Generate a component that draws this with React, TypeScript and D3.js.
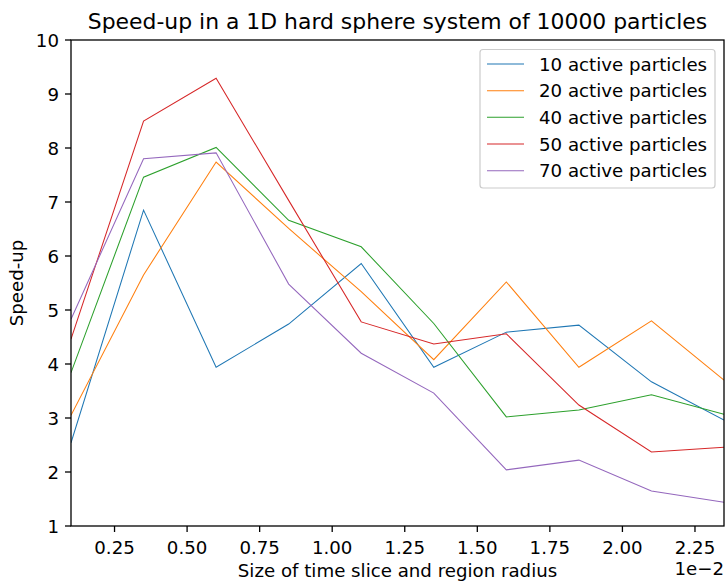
import React from "react";
import * as d3 from "d3";

const xValues = [0.1, 0.35, 0.6, 0.85, 1.1, 1.35, 1.6, 1.85, 2.1, 2.35];
const series10 = [2.54, 6.85, 3.94, 4.74, 5.86, 3.94, 4.59, 4.72, 3.67, 2.96];
const series20 = [3.05, 5.65, 7.74, 6.51, 5.34, 4.08, 5.52, 3.94, 4.8, 3.7];
const series40 = [3.84, 7.46, 8.01, 6.66, 6.17, 4.75, 3.02, 3.15, 3.43, 3.07];
const series50 = [4.46, 8.5, 9.29, 7.03, 4.78, 4.37, 4.56, 3.24, 2.37, 2.46];
const series70 = [4.83, 7.8, 7.91, 5.48, 4.2, 3.46, 2.04, 2.22, 1.65, 1.44];
const seriesLabels = [
  "10 active particles",
  "20 active particles",
  "40 active particles",
  "50 active particles",
  "70 active particles",
];
const colors = ["#1f77b4", "#ff7f0e", "#2ca02c", "#d62728", "#9467bd"];
const xTicks = [0.25, 0.5, 0.75, 1.0, 1.25, 1.5, 1.75, 2.0, 2.25];
const yTicks = [1, 2, 3, 4, 5, 6, 7, 8, 9, 10];

const W = 727;
const H = 581;
const L = 71;
const R = 724;
const T = 40;
const B = 526;
const FONT = "DejaVu Sans, sans-serif";
const FS = 18.2;

export default function App() {
  const x = d3.scaleLinear().domain([0.1, 2.35]).range([L, R]);
  const y = d3.scaleLinear().domain([1, 10]).range([B, T]);
  const line = d3
    .line<number>()
    .x((_, i) => x(xValues[i]))
    .y((d) => y(d));
  const all = [series10, series20, series40, series50, series70];

  return (
    <svg
      width={W}
      height={H}
      style={{ position: "absolute", left: 0, top: 0, background: "#fff" }}
      fontFamily={FONT}
    >
      <rect x={0} y={0} width={W} height={H} fill="#fff" />
      <defs>
        <clipPath id="plot">
          <rect x={L} y={T} width={R - L} height={B - T} />
        </clipPath>
      </defs>
      <g clipPath="url(#plot)">
        {all.map((s, i) => (
          <path key={i} d={line(s) || ""} fill="none" stroke={colors[i]} strokeWidth={1.05} />
        ))}
      </g>
      <rect x={L} y={T} width={R - L} height={B - T} fill="none" stroke="#000" strokeWidth={1.3} />
      {xTicks.map((t) => (
        <g key={t}>
          <line x1={x(t)} x2={x(t)} y1={B} y2={B + 6} stroke="#000" strokeWidth={1.3} />
          <text x={x(t)} y={553.5} textAnchor="middle" fontSize={FS} fill="#000">
            {t.toFixed(2)}
          </text>
        </g>
      ))}
      {yTicks.map((t) => (
        <g key={t}>
          <line x1={L - 6} x2={L} y1={y(t)} y2={y(t)} stroke="#000" strokeWidth={1.3} />
          <text x={L - 12} y={y(t) + 6.5} textAnchor="end" fontSize={FS} fill="#000">
            {t}
          </text>
        </g>
      ))}
      <text x={(L + R) / 2} y={577} textAnchor="middle" fontSize={FS} fill="#000">
        Size of time slice and region radius
      </text>
      <text x={R} y={575} textAnchor="end" fontSize={FS} fill="#000">
        1e−2
      </text>
      <text
        transform={`translate(23, ${(T + B) / 2}) rotate(-90)`}
        textAnchor="middle"
        fontSize={FS}
        fill="#000"
      >
        Speed-up
      </text>
      <text x={(L + R) / 2} y={29} textAnchor="middle" fontSize={21.9} fill="#000">
        Speed-up in a 1D hard sphere system of 10000 particles
      </text>
      <rect x={480} y={49.5} width={235} height={138.5} rx={3} fill="#fff" fillOpacity={0.8} stroke="#ccc" strokeWidth={1.2} />
      {seriesLabels.map((lab, i) => {
        const cy = 64 + i * 26.67;
        return (
          <g key={lab}>
            <line x1={487} x2={524} y1={cy} y2={cy} stroke={colors[i]} strokeWidth={1.05} />
            <text x={539} y={cy + 6.5} fontSize={FS} fill="#000">
              {lab}
            </text>
          </g>
        );
      })}
    </svg>
  );
}
